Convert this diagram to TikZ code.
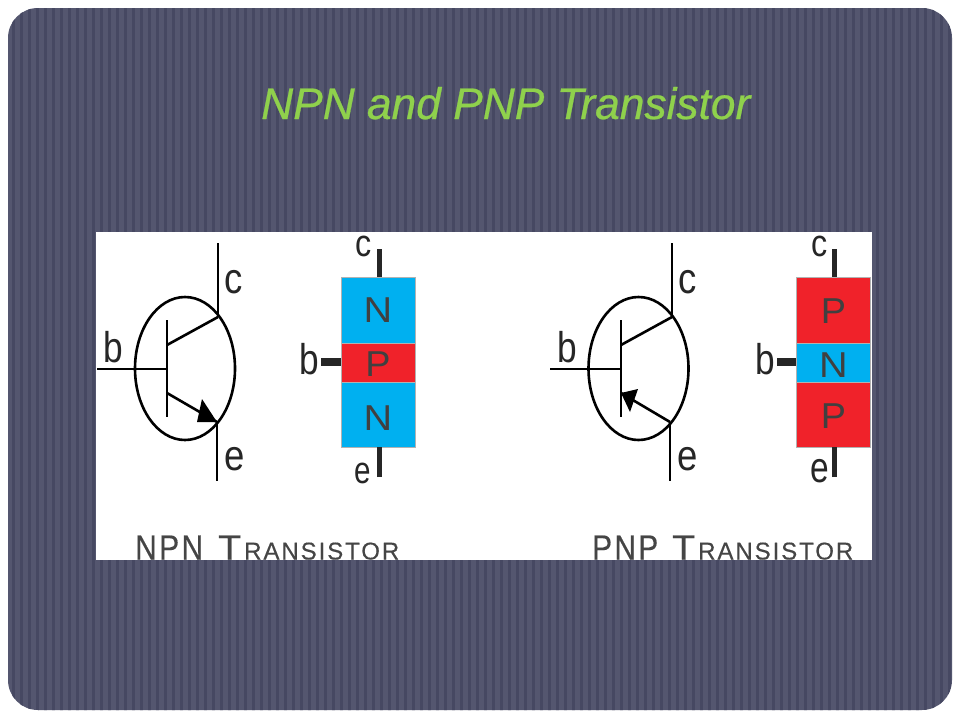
\documentclass[tikz,border=0pt]{standalone}
\usepackage{fontspec}
\setmainfont{Liberation Sans}
\newfontfamily\heavier[FakeBold=0.6]{Liberation Sans}
\newfontfamily\capfont[FakeBold=0.4,LetterSpace=8]{Liberation Sans}
\usetikzlibrary{shapes.geometric}
\definecolor{slide}{HTML}{54566F}
\definecolor{stripe}{HTML}{464862}
\definecolor{titlegreen}{HTML}{8FD14C}
\definecolor{nblue}{HTML}{00B0F0}
\definecolor{pred}{HTML}{F0222A}
\definecolor{capgrey}{HTML}{454545}
\newcommand{\lab}[2]{\scalebox{#1}[1]{#2}}
\tikzset{
  wire/.style={line width=2.6pt,black},
  stub/.style={line width=5pt,black!85},
  ring/.style={ellipse,draw=black,line width=2.6pt,minimum width=100pt,minimum height=143pt,inner sep=0pt},
  letter/.style={inner sep=0pt,font=\fontsize{43}{43}\selectfont,text=black!85},
  smallletter/.style={inner sep=0pt,font=\fontsize{38}{38}\selectfont,text=black!85},
  layerlab/.style={inner sep=0pt,font=\fontsize{36}{36}\selectfont,text=black!75},
  layer/.style={inner sep=0pt,draw=black!30,line width=.5pt},
  caption/.style={inner sep=0pt,text=capgrey,font=\capfont},
  arrowfill/.style={fill=black,draw=none}
}
\newcommand{\capt}[3]{\resizebox{#2pt}{24pt}{#1}\hspace{#3pt}\resizebox{23pt}{24pt}{T}\hspace{3pt}\resizebox{155pt}{17pt}{RANSISTOR}}
\begin{document}
\begin{tikzpicture}[x=1pt,y=-1pt]
\useasboundingbox (0,0) rectangle (960,720);
\fill[white] (0,0) rectangle (960,720);
\begin{scope}
\clip[rounded corners=30pt] (8,8) rectangle (952,710);
\fill[slide] (0,0) rectangle (960,720);
\foreach \x in {12,20,...,956} \fill[stripe] (\x,0) rectangle (\x+2.5,720);
\end{scope}
\node[anchor=base west,inner sep=0pt,text=titlegreen,font=\heavier\fontsize{44.3}{44}\selectfont\itshape] (title) at (261,119) {NPN and PNP Transistor};
\fill[white] (96,232) rectangle (872,560);
% NPN symbol
\node[ring] (c1) at (185,368.5) {};
\coordinate (c1top) at (218,243); \coordinate (c1j) at (218,317);
\coordinate (e1j) at (217,422); \coordinate (e1bot) at (217,481);
\coordinate (b1a) at (97,369); \coordinate (b1b) at (167,369);
\coordinate (bar1t) at (167,320); \coordinate (bar1b) at (167,417);
\coordinate (d1a) at (167,345); \coordinate (d1b) at (167,393);
\draw[wire] (c1top) -- (c1j);
\draw[wire] (e1j) -- (e1bot);
\draw[wire] (b1a) -- (b1b);
\draw[wire] (bar1t) -- (bar1b);
\draw[wire] (d1a) -- (c1j);
\draw[wire] (d1b) -- (e1j);
\fill[arrowfill] (e1j) -- (197,422) -- (202,399) -- cycle;
\node[letter] (l1c) at (234,282) {\lab{.85}{c}};
\node[letter] (l1b) at (113,347) {\lab{.82}{b}};
\node[letter] (l1e) at (235,459) {\lab{.85}{e}};
% NPN block
\node[layer,fill=nblue,minimum width=74pt,minimum height=66pt] (n1t) at (378,310) {};
\node[layer,fill=pred,minimum width=74pt,minimum height=39pt] (p1) at (378,362.5) {};
\node[layer,fill=nblue,minimum width=74pt,minimum height=65pt] (n1b) at (378,414.5) {};
\node[layerlab] at (n1t) {\lab{1.1}{N}};
\node[layerlab,yshift=-1.5pt] at (p1) {\lab{1.05}{P}};
\node[layerlab,yshift=-3.5pt] at (n1b) {\lab{1.1}{N}};
\coordinate (s1c) at (379,249); \coordinate (s1e) at (379,477); \coordinate (s1b) at (321,362);
\draw[stub] (s1c) -- (n1t.north -| s1c);
\draw[stub] (s1e) -- (n1b.south -| s1e);
\draw[stub,line width=7.5pt] (s1b) -- (p1.west |- s1b);
\node[smallletter] (m1c) at (364,246) {\lab{.85}{c}};
\node[letter] (m1b) at (309,359) {\lab{.82}{b}};
\node[smallletter] (m1e) at (363,473) {\lab{.78}{e}};
\node[caption,anchor=base west] (cap1) at (135,559.5) {\capt{NPN}{68}{15}};
% PNP symbol
\node[ring] (c2) at (638.5,368.5) {};
\coordinate (c2top) at (672,243); \coordinate (c2j) at (672,317);
\coordinate (e2j) at (670,422); \coordinate (e2bot) at (670,481);
\coordinate (b2a) at (550,369); \coordinate (b2b) at (621,369);
\coordinate (bar2t) at (621,320); \coordinate (bar2b) at (621,417);
\coordinate (d2a) at (621,345); \coordinate (d2b) at (621,393);
\draw[wire] (c2top) -- (c2j);
\draw[wire] (e2j) -- (e2bot);
\draw[wire] (b2a) -- (b2b);
\draw[wire] (bar2t) -- (bar2b);
\draw[wire] (d2a) -- (c2j);
\draw[wire] (e2j) -- (d2b);
\fill[arrowfill] (d2b) -- (638,389) -- (630,412) -- cycle;
\node[letter] (l2c) at (688,282) {\lab{.85}{c}};
\node[letter] (l2b) at (567,347) {\lab{.82}{b}};
\node[letter] (l2e) at (688,459) {\lab{.85}{e}};
% PNP block
\node[layer,fill=pred,minimum width=74pt,minimum height=66pt] (p2t) at (833.5,310) {};
\node[layer,fill=nblue,minimum width=74pt,minimum height=39pt] (n2) at (833.5,362.5) {};
\node[layer,fill=pred,minimum width=74pt,minimum height=65pt] (p2b) at (833.5,414.5) {};
\node[layerlab,yshift=-1pt] at (p2t) {\lab{1.05}{P}};
\node[layerlab,yshift=-2.5pt] at (n2) {\lab{1.1}{N}};
\node[layerlab,yshift=-2pt] at (p2b) {\lab{1.05}{P}};
\coordinate (s2c) at (834,249); \coordinate (s2e) at (834,477); \coordinate (s2b) at (777,362);
\draw[stub] (s2c) -- (p2t.north -| s2c);
\draw[stub] (s2e) -- (p2b.south -| s2e);
\draw[stub,line width=7.5pt] (s2b) -- (n2.west |- s2b);
\node[smallletter] (m2c) at (820,246) {\lab{.85}{c}};
\node[letter] (m2b) at (765,359) {\lab{.82}{b}};
\node[letter] (m2e) at (820,471) {\lab{.78}{e}};
\node[caption,anchor=base west] (cap2) at (592,559.5) {\capt{PNP}{66}{14}};
\end{tikzpicture}
\end{document}
